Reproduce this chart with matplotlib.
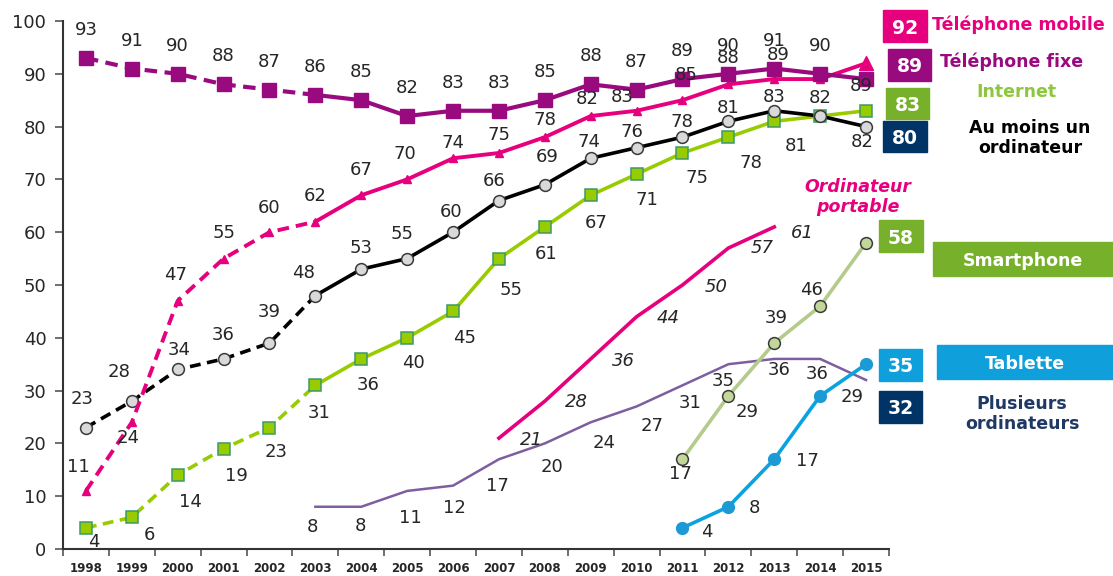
import numpy as np
import matplotlib.pyplot as plt
from matplotlib.patches import Rectangle

W, H = 1113, 576

# Data (% of population)
years = ['1998', '1999', '2000', '2001', '2002', '2003', '2004', '2005', '2006',
         '2007', '2008', '2009', '2010', '2011', '2012', '2013', '2014', '2015']
fixe = [93, 91, 90, 88, 87, 86, 85, 82, 83, 83, 85, 88, 87, 89, 90, 91, 90, 89]
mobile = [11, 24, 47, 55, 60, 62, 67, 70, 74, 75, 78, 82, 83, 85, 88, 89, 89, 92]
internet = [4, 6, 14, 19, 23, 31, 36, 40, 45, 55, 61, 67, 71, 75, 78, 81, 82, 83]
ordinateur = [23, 28, 34, 36, 39, 48, 53, 55, 60, 66, 69, 74, 76, 78, 81, 83, 82, 80]
portable_years = ['2007', '2008', '2009', '2010', '2011', '2012', '2013']
portable = [21, 28, 36, 44, 50, 57, 61]
plusieurs_years = ['2003', '2004', '2005', '2006', '2007', '2008', '2009',
                   '2010', '2011', '2012', '2013', '2014', '2015']
plusieurs = [8, 8, 11, 12, 17, 20, 24, 27, 31, 35, 36, 36, 32]
recent_years = ['2011', '2012', '2013', '2014', '2015']
smartphone = [17, 29, 39, 46, 58]
tablette = [4, 8, 17, 29, 35]

# colours
PINK = '#E6007E'
PURPLE = '#990A7F'
LIME = '#99CC00'
GREEN_BOX = '#77B02A'
NAVY = '#0B3160'
VIOLET = '#7D5E9E'
SAGE = '#B4CB8C'
BLUE = '#0AA3E0'
TXT = '#262626'

# label offsets in pixels (dx, dy); None = no label
off_fixe = [(0, 28)] * 17 + [None]
off_mobile = [(-8, 24), (-4, -16), (-2, 26), (0, 26), (0, 24), (0, 26), (0, 25),
              (-2, 25), (0, 15), (0, 18), (0, 17), (-4, 17), (-14, 14), (4, 25),
              (0, 26), (4, 24), (41, -7), None]
off_internet = [(8, -14), (18, -18), (13, -27), (13, -27), (7, -24), (4, -28),
                (7, -26), (6, -25), (12, -27), (12, -31), (1, -27), (5, -28),
                (10, -26), (15, -25), (23, -26), (22, -25), (42, -26), None]
off_ordi = [(-4, 29), (-13, 29), (1, 19), (0, 24), (0, 31), (-12, 23), (0, 21),
            (-5, 25), (-2, 20), (-5, 20), (2, 28), (-2, 16), (-5, 16), (-1, 15),
            (0, 13), (0, 14), (0, 18), None]
off_portable = [(32, -2), (32, -1), (33, -2), (32, -1), (34, -2), (34, 0), (28, -6)]
off_plusieurs = [(-3, -20), (-1, -19), (3, -27), (1, -22), (-2, -27), (7, -24),
                 (13, -21), (16, -20), (8, -18), (-5, -17), (5, -11), (-3, -15), None]
off_smart = [(-2, -15), (19, -16), (2, 25), (-9, 16), None]
off_tab = [(24, -4), (26, -1), (33, -2), (32, -1), None]

fig = plt.figure(figsize=(W / 100, H / 100), dpi=100)
ax = fig.add_axes([63 / W, 27 / H, 826 / W, 528 / H])


def pos(labels):
    return [years.index(y) for y in labels]


def labels(xs, vals, offsets, italic=False):
    for x, v, o in zip(xs, vals, offsets):
        if o is None:
            continue
        ax.annotate(str(v), (x, v), xytext=o, textcoords='offset pixels',
                    ha='center', va='center', fontsize=13, color=TXT,
                    style='italic' if italic else 'normal', zorder=10)


xall = np.arange(len(years))
d = 5  # 2003: end of the dashed part

# Plusieurs ordinateurs
xp = pos(plusieurs_years)
ax.plot(xp, plusieurs, color=VIOLET, lw=1.8, zorder=2)
labels(xp, plusieurs, off_plusieurs)

# Ordinateur portable
xo = pos(portable_years)
ax.plot(xo, portable, color=PINK, lw=2.6, zorder=2)
labels(xo, portable, off_portable, italic=True)

# Smartphone
xr = pos(recent_years)
ax.plot(xr, smartphone, color=SAGE, lw=2.6, marker='o', ms=8.5,
        mfc='#C4D79B', mec='#3a3a3a', mew=1.1, zorder=3)
labels(xr, smartphone, off_smart)

# Tablette
ax.plot(xr, tablette, color=BLUE, lw=2.6, marker='o', ms=8.5,
        mfc='#1B9AD6', mec='#1B9AD6', zorder=3)
labels(xr, tablette, off_tab)

# Internet
ax.plot(xall[:d + 1], internet[:d + 1], color=LIME, lw=2.6, ls=(0, (3, 1.8)), zorder=4)
ax.plot(xall[d:], internet[d:], color=LIME, lw=2.6, zorder=4)
ax.plot(xall, internet, ls='none', marker='s', ms=8.5, mfc=LIME, mec='#3C9A6A',
        mew=1.1, zorder=5)
labels(xall, internet, off_internet)

# Au moins un ordinateur
ax.plot(xall[:d + 1], ordinateur[:d + 1], color='black', lw=2.6, ls=(0, (3, 1.8)), zorder=4)
ax.plot(xall[d:], ordinateur[d:], color='black', lw=2.6, zorder=4)
ax.plot(xall, ordinateur, ls='none', marker='o', ms=8.5, mfc='#D9D9D9', mec='#3a3a3a',
        mew=1.1, zorder=5)
labels(xall, ordinateur, off_ordi)

# Telephone mobile
ax.plot(xall[:d + 1], mobile[:d + 1], color=PINK, lw=2.8, ls=(0, (3, 1.8)), zorder=6)
ax.plot(xall[d:], mobile[d:], color=PINK, lw=2.8, zorder=6)
ax.plot(xall[:-1], mobile[:-1], ls='none', marker='^', ms=6, color=PINK, zorder=6)
ax.plot(xall[-1:], mobile[-1:], ls='none', marker='^', ms=10, color=PINK, zorder=6)
labels(xall, mobile, off_mobile)

# Telephone fixe
ax.plot(xall[:d + 1], fixe[:d + 1], color=PURPLE, lw=3, ls=(0, (3, 1.8)), zorder=7)
ax.plot(xall[d:], fixe[d:], color=PURPLE, lw=3, zorder=7)
ax.plot(xall, fixe, ls='none', marker='s', ms=10.5, color=PURPLE, zorder=7)
labels(xall, fixe, off_fixe)

# axes
ax.set_xlim(-0.5, len(years) - 0.5)
ax.set_ylim(0, 100)
ax.set_yticks(range(0, 101, 10))
ax.set_xticks(xall)
ax.set_xticklabels(years, fontweight='bold')
ax.set_xticks(np.arange(-0.5, len(years), 1), minor=True)
ax.tick_params(axis='x', which='major', length=0, pad=9, labelsize=8.5, labelcolor=TXT)
ax.tick_params(axis='x', which='minor', length=5, width=1.2, color='#555555')
ax.tick_params(axis='y', length=6, width=1.2, color='#555555', pad=6,
               labelsize=13, labelcolor=TXT)
for s in ['top', 'right']:
    ax.spines[s].set_visible(False)
for s in ['left', 'bottom']:
    ax.spines[s].set_color('#333333')
    ax.spines[s].set_linewidth(1.5)


# right-hand value boxes and names
def frac(x, y):
    return x / W, 1 - y / H


def box(x0, y0, x1, y1, color, text, size=13.5):
    fig.add_artist(Rectangle(frac(x0, y1), (x1 - x0) / W, (y1 - y0) / H,
                             transform=fig.transFigure, color=color, zorder=1))
    cx, cy = frac((x0 + x1) / 2, (y0 + y1) / 2)
    fig.text(cx, cy, text, ha='center', va='center_baseline', color='white',
             fontsize=size, fontweight='bold', zorder=2)


def name(x, y, text, color, ha='center'):
    fx, fy = frac(x, y)
    fig.text(fx, fy, text, ha=ha, va='center', color=color, fontsize=12.5,
             fontweight='bold', linespacing=1.2)


box(883, 10, 927, 42, PINK, str(mobile[-1]))
name(932, 25, 'Téléphone mobile', PINK, ha='left')
box(888, 49, 931, 81, PURPLE, str(fixe[-1]))
name(940, 62, 'Téléphone fixe', PURPLE, ha='left')
box(886, 88, 929, 119, GREEN_BOX, str(internet[-1]))
name(1016, 92, 'Internet', '#8DC63F')
box(883, 121, 927, 152, '#003366', str(ordinateur[-1]))
name(1030, 138, 'Au moins un\nordinateur', 'black')
box(879, 220, 923, 252, GREEN_BOX, str(smartphone[-1]))
box(933, 242, 1113, 276, GREEN_BOX, 'Smartphone', size=12.5)
box(879, 349, 922, 381, '#0FA0DC', str(tablette[-1]))
box(937, 345, 1113, 379, '#0FA0DC', 'Tablette', size=12.5)
box(879, 391, 922, 423, '#003366', str(plusieurs[-1]))
name(1022, 414, 'Plusieurs\nordinateurs', '#1F3864')

fx, fy = frac(858, 197)
fig.text(fx, fy, 'Ordinateur\nportable', ha='center', va='center', color=PINK,
         fontsize=12.5, fontweight='bold', style='italic', linespacing=1.1)

fig.savefig('out.png', dpi=100)
